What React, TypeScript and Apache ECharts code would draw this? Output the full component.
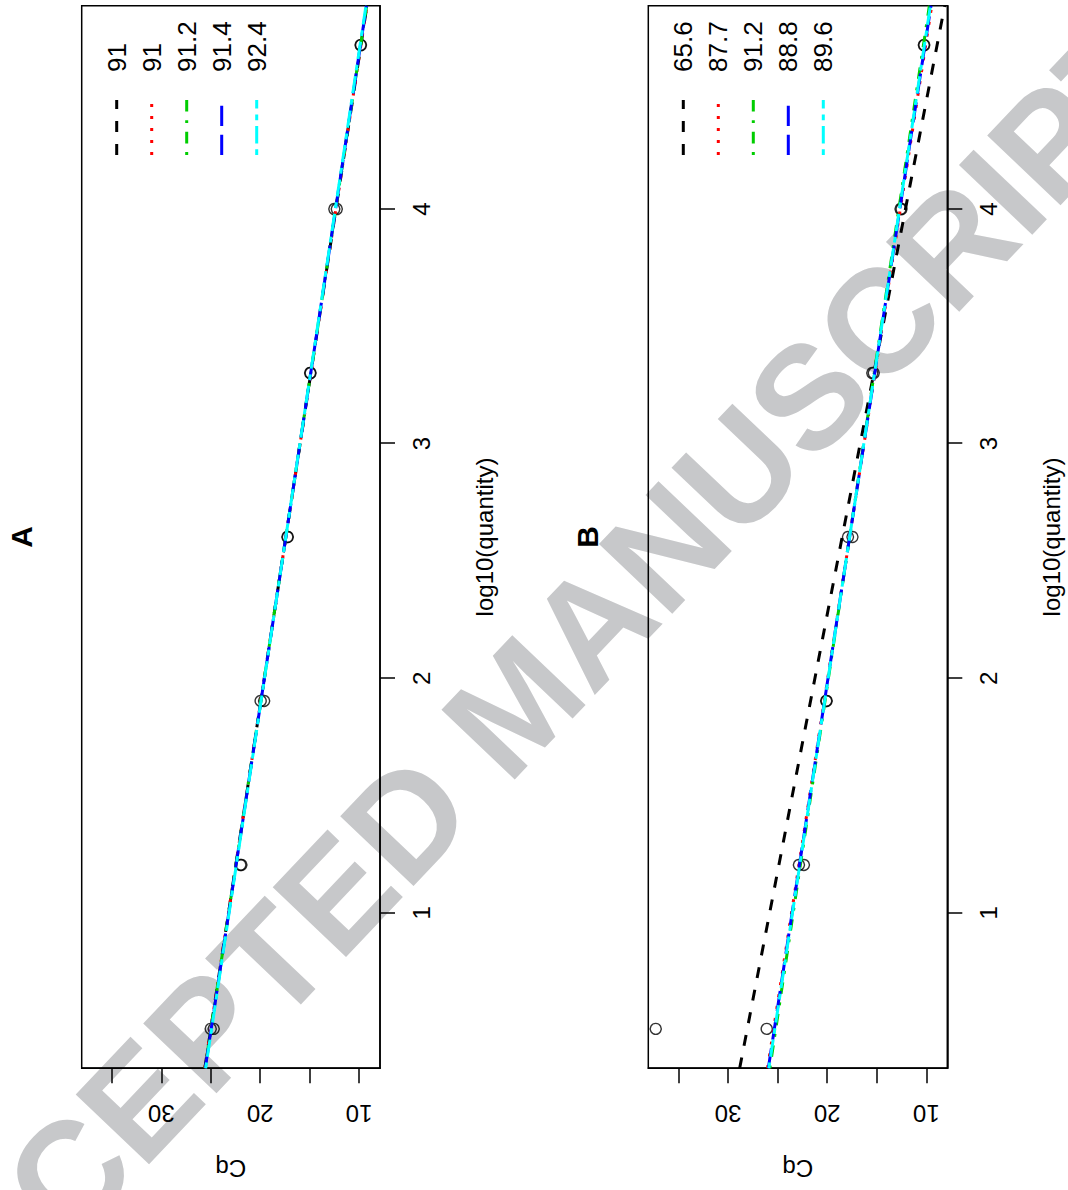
import React, { useEffect, useRef } from "react";
import * as echarts from "echarts";

// ---- data ----
const log10Quantity = [0.505, 1.204, 1.903, 2.602, 3.301, 4.0, 4.699];

const cqA_rep1 = [25.0, 22.0, 19.95, 17.25, 14.9, 12.5, 9.85];
const cqA_rep2 = [24.7, 21.9, 19.6, 17.2, 14.95, 12.25, 9.8];
const cqB_rep1 = [37.3, 22.85, 20.1, 17.9, 15.45, 12.6, 10.25];
const cqB_rep2 = [26.1, 22.35, 20.05, 17.45, 15.3, 12.5, 10.2];

// legend labels = efficiencies (%)
const effA = [91, 91, 91.2, 91.4, 92.4];
const effB = [65.6, 87.7, 91.2, 88.8, 89.6];

// fitted standard-curve lines: Cq = intercept + slope * log10(quantity)
const slopesA = [-3.62, -3.62, -3.61, -3.6, -3.58];
const interceptsA = [26.82, 26.82, 26.8, 26.77, 26.72];
const slopesB = [-4.567, -3.657, -3.553, -3.623, -3.599];
const interceptsB = [30.37, 27.25, 26.98, 27.16, 27.1];

const xTicks = [1, 2, 3, 4];
const yTicks = [10, 15, 20, 25, 30, 35];
const yLabels = [10, 20, 30];

const xMin = 0.337;
const xMax = 4.867;
const cqMin = 7.88;
const cqMax = 38.05;

// ---- styles ----
const lineColors = ["#000000", "#ff0000", "#00cd00", "#0000ff", "#00ffff"];
const lineDashes: number[][] = [
  [11, 12],
  [3, 9],
  [2.9, 8.7, 11.6, 8.7],
  [20.3, 8.7],
  [5.8, 5.8, 17.4, 5.8],
];
const FONT = "'Liberation Sans', Arial, Helvetica, sans-serif";

const W = 1190; // un-rotated frame
const H = 1068;

const gridLeft = 121.7;
const gridRight = 5.7;
const gridTops = [81.7, 648.3];
const gridHeights = [298.3, 299];

export default function App() {
  const ref = useRef<HTMLDivElement>(null);

  useEffect(() => {
    if (!ref.current) return;
    const chart = echarts.init(ref.current, null, { renderer: "svg", width: W, height: H });

    const panels = [
      { title: "A", r1: cqA_rep1, r2: cqA_rep2, eff: effA, slopes: slopesA, ints: interceptsA },
      { title: "B", r1: cqB_rep1, r2: cqB_rep2, eff: effB, slopes: slopesB, ints: interceptsB },
    ];

    const grids: any[] = [];
    const xAxes: any[] = [];
    const yAxes: any[] = [];
    const series: any[] = [];
    const graphics: any[] = [];

    // watermark (under everything)
    graphics.push({
      type: "text",
      x: 486,
      y: 516,
      rotation: -0.76,
      z: -10,
      style: {
        text: "ACCEPTED MANUSCRIPT",
        fontSize: 147,
        fontWeight: "bold",
        fontFamily: FONT,
        fill: "#c7c8ca",
        align: "center",
        verticalAlign: "middle",
      },
    });

    panels.forEach((p, gi) => {
      const top = gridTops[gi];
      const h = gridHeights[gi];
      grids.push({
        left: gridLeft,
        right: gridRight,
        top,
        height: h,
        show: true,
        borderColor: "#000",
        borderWidth: 1.5,
        backgroundColor: "transparent",
      });
      xAxes.push({
        type: "value",
        gridIndex: gi,
        min: xMin,
        max: xMax,
        position: "bottom",
        axisLine: { show: true, onZero: false, lineStyle: { color: "#000", width: 1.5 } },
        axisTick: { show: true, length: 15, customValues: xTicks, lineStyle: { color: "#000", width: 1.5 } },
        axisLabel: {
          show: true,
          customValues: xTicks,
          fontSize: 24,
          color: "#000",
          fontFamily: FONT,
          margin: 29,
        },
        splitLine: { show: false },
      });
      yAxes.push({
        type: "value",
        gridIndex: gi,
        min: cqMin,
        max: cqMax,
        position: "left",
        axisLine: { show: true, onZero: false, lineStyle: { color: "#000", width: 1.5 } },
        axisTick: { show: true, length: 15, customValues: yTicks, lineStyle: { color: "#000", width: 1.5 } },
        axisLabel: {
          show: true,
          customValues: yLabels,
          rotate: 90,
          fontSize: 24,
          color: "#000",
          fontFamily: FONT,
          margin: 33,
        },
        splitLine: { show: false },
      });

      // points
      [p.r1, p.r2].forEach((rep) => {
        series.push({
          type: "scatter",
          xAxisIndex: gi,
          yAxisIndex: gi,
          symbol: "circle",
          symbolSize: 11,
          itemStyle: { color: "rgba(0,0,0,0)", borderColor: "#000", borderWidth: 1.4 },
          data: log10Quantity.map((x, i) => [x, rep[i]]),
          z: 2,
        });
      });

      // fitted lines
      p.slopes.forEach((s, k) => {
        const a = p.ints[k];
        series.push({
          type: "line",
          xAxisIndex: gi,
          yAxisIndex: gi,
          symbol: "none",
          clip: true,
          lineStyle: { color: lineColors[k], width: 3, type: lineDashes[k], cap: "butt" },
          data: [
            [xMin, a + s * xMin],
            [xMax, a + s * xMax],
          ],
          z: 3,
        });
      });

      // panel title
      graphics.push({
        type: "text",
        x: gridLeft + (W - gridLeft - gridRight) / 2,
        y: top - 60.5,
        style: {
          text: p.title,
          fontSize: 30,
          fontWeight: "bold",
          fontFamily: FONT,
          fill: "#000",
          align: "center",
          verticalAlign: "middle",
        },
      });
      // x axis title
      graphics.push({
        type: "text",
        x: gridLeft + (W - gridLeft - gridRight) / 2,
        y: top + h + 104,
        style: {
          text: "log10(quantity)",
          fontSize: 24,
          fontFamily: FONT,
          fill: "#000",
          align: "center",
          verticalAlign: "middle",
        },
      });
      // y axis title
      graphics.push({
        type: "text",
        x: 22,
        y: top + h / 2,
        rotation: Math.PI / 2,
        style: {
          text: "Cq",
          fontSize: 24,
          fontFamily: FONT,
          fill: "#000",
          align: "center",
          verticalAlign: "middle",
        },
      });
      // legend
      p.eff.forEach((e, k) => {
        const ry = top + 35 * (k + 1);
        graphics.push({
          type: "line",
          shape: { x1: 1035, y1: ry, x2: 1090, y2: ry },
          style: { stroke: lineColors[k], lineWidth: 3, lineDash: lineDashes[k], lineCap: "butt" },
        });
        graphics.push({
          type: "text",
          x: 1118,
          y: ry,
          style: {
            text: String(e),
            fontSize: 26,
            fontFamily: FONT,
            fill: "#000",
            align: "left",
            verticalAlign: "middle",
          },
        });
      });
    });

    chart.setOption({
      animation: false,
      backgroundColor: "#fff",
      grid: grids,
      xAxis: xAxes,
      yAxis: yAxes,
      series,
      graphic: graphics,
    });

    return () => chart.dispose();
  }, []);

  return (
    <div
      style={{
        position: "fixed",
        left: 0,
        top: 0,
        width: 1068,
        height: 1190,
        overflow: "hidden",
        background: "#fff",
      }}
    >
      <div
        ref={ref}
        style={{
          position: "absolute",
          left: 0,
          top: 0,
          width: W,
          height: H,
          transformOrigin: "0 0",
          transform: "translateY(1190px) rotate(-90deg)",
        }}
      />
    </div>
  );
}
